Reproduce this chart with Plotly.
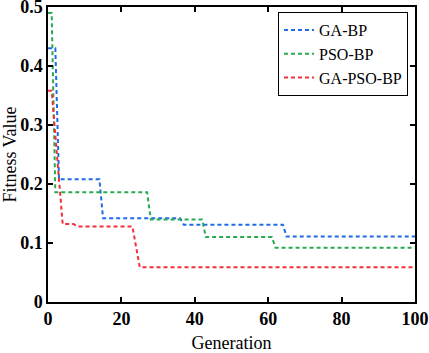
import plotly.graph_objects as go

# Breakpoints of each convergence curve (generation, fitness)
ga_bp_x = [0, 2, 3, 14, 15, 36, 37, 64, 65, 100]
ga_bp_y = [0.43, 0.43, 0.208, 0.208, 0.142, 0.142, 0.131, 0.131, 0.111, 0.111]

pso_bp_x = [0, 1, 2, 27, 28, 42, 43, 61, 62, 100]
pso_bp_y = [0.49, 0.49, 0.186, 0.186, 0.140, 0.140, 0.110, 0.110, 0.092, 0.092]

ga_pso_bp_x = [0, 1, 4, 7, 8, 23, 25, 100]
ga_pso_bp_y = [0.358, 0.358, 0.132, 0.132, 0.128, 0.128, 0.059, 0.059]

series_names = ["GA-BP", "PSO-BP", "GA-PSO-BP"]
colors = ["#1f6be6", "#27ab4e", "#f2303b"]

x_ticks = [0, 20, 40, 60, 80, 100]
y_ticks = [0, 0.1, 0.2, 0.3, 0.4, 0.5]
y_tick_labels = ["0", "0.1", "0.2", "0.3", "0.4", "0.5"]

fig = go.Figure()
for name, xs, ys, c in zip(series_names,
                           [ga_bp_x, pso_bp_x, ga_pso_bp_x],
                           [ga_bp_y, pso_bp_y, ga_pso_bp_y],
                           colors):
    fig.add_trace(go.Scatter(x=xs, y=ys, mode="lines", name=name,
                             line=dict(color=c, width=2, dash="4px,3px")))

serif = "Liberation Serif"
axis_common = dict(showline=True, linecolor="black", linewidth=1.5, mirror="ticks",
                   ticks="inside", ticklen=5, tickwidth=1.5, tickcolor="black",
                   showgrid=False, zeroline=False, automargin=False,
                   ticklabeloverflow="allow",
                   tickfont=dict(family=serif, size=18, color="black", weight="bold"),
                   title_font=dict(family=serif, size=18, color="black"))

fig.update_xaxes(range=[0, 100], tickvals=x_ticks,
                 title_text="Generation", title_standoff=8, **axis_common)
fig.update_yaxes(range=[0, 0.5], tickvals=y_ticks, ticktext=y_tick_labels,
                 title_text="Fitness Value", title_standoff=6, **axis_common)

fig.update_layout(
    template="none",
    width=429, height=353,
    margin=dict(l=48, r=14, t=7, b=51, autoexpand=False),
    plot_bgcolor="white", paper_bgcolor="white",
    showlegend=True,
    legend=dict(x=0.981, y=0.983, xanchor="right", yanchor="top",
                bgcolor="white", bordercolor="black", borderwidth=1,
                font=dict(family=serif, size=16, color="black"),
                tracegroupgap=0, itemwidth=30),
)

fig.write_html("out.html",
               config={"displayModeBar": False},
               post_script="document.body.style.margin='0';document.body.style.overflow='hidden';")
